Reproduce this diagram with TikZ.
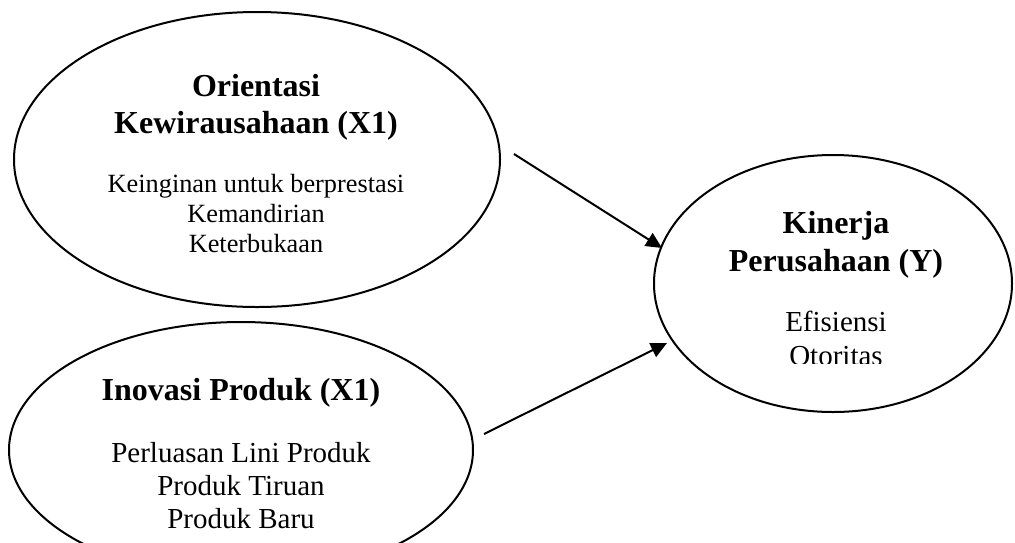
\documentclass[tikz,border=0pt]{standalone}
\usepackage{fontspec}
\setmainfont{Liberation Serif}
\usetikzlibrary{shapes.geometric,arrows.meta}
\begin{document}
\begin{tikzpicture}[x=1pt,y=-1pt,
  oval/.style={draw,ellipse,line width=2pt,inner sep=0pt,outer sep=0pt},
  ttl/.style={anchor=base,inner sep=0pt,font=\fontsize{32}{38}\selectfont\bfseries},
  itma/.style={anchor=base,inner sep=0pt,font=\fontsize{26.3}{30}\selectfont},
  itmb/.style={anchor=base,inner sep=0pt,font=\fontsize{29}{33}\selectfont},
  arr/.style={line width=2pt,-{Triangle[length=16pt,width=15pt]}}]
\useasboundingbox (0,0) rectangle (1015,542);
% ellipses
\node[oval,minimum width=486pt,minimum height=295pt] (e1) at (257,159.5) {};
\node[oval,minimum width=464pt,minimum height=256pt] (e2) at (241,450) {};
\node[oval,minimum width=358pt,minimum height=257pt] (e3) at (833,283.5) {};
% texts ellipse 1
\node[ttl] (t1a) at (256,96.5) {Orientasi};
\node[ttl] (t1b) at (256,133) {Kewirausahaan (X1)};
\node[itma] (i1a) at (256,192) {Keinginan untuk berprestasi};
\node[itma] (i1b) at (256,222) {Kemandirian};
\node[itma] (i1c) at (256,252) {Keterbukaan};
% texts ellipse 2
\node[ttl] (t2a) at (241,400) {Inovasi Produk (X1)};
\node[itmb] (i2a) at (241,462) {Perluasan Lini Produk};
\node[itmb] (i2b) at (241,495) {Produk Tiruan};
\node[itmb] (i2c) at (241,528) {Produk Baru};
% texts ellipse 3
\node[ttl] (t3a) at (836,233) {Kinerja};
\node[ttl] (t3b) at (836,271) {Perusahaan (Y)};
\node[itmb] (i3a) at (836,331) {Efisiensi};
\begin{scope}
  \clip (700,300) rectangle (970,363);
  \node[itmb] (i3b) at (836,365) {Otoritas};
\end{scope}
% arrows
\coordinate (a1s) at (514,154);
\coordinate (a1e) at (662,248);
\coordinate (a2s) at (484,434);
\coordinate (a2e) at (667,343);
\draw[arr] (a1s) -- (a1e);
\draw[arr] (a2s) -- (a2e);
\end{tikzpicture}
\end{document}
